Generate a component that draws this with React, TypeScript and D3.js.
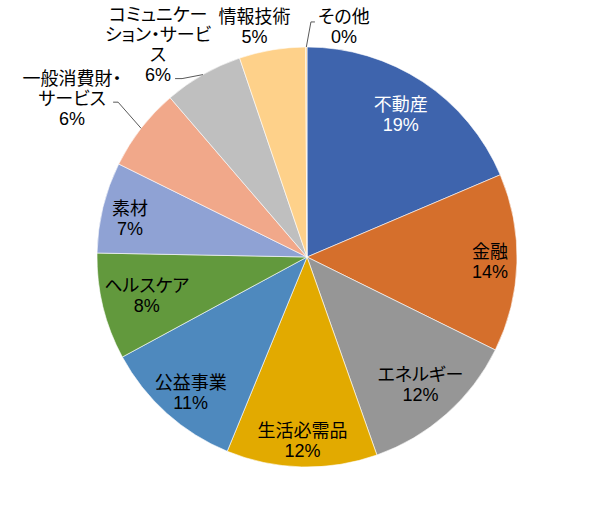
import { useEffect, useRef } from "react";
import * as d3 from "d3";

// sector weights (%), clockwise from 12 o'clock
const categories = [
  "不動産",
  "金融",
  "エネルギー",
  "生活必需品",
  "公益事業",
  "ヘルスケア",
  "素材",
  "一般消費財・サービス",
  "コミュニケーション・サービス",
  "情報技術",
  "その他",
];
const shares = [18.6, 13.7, 12.3, 11.6, 10.9, 8.2, 7.0, 6.4, 6.1, 5.1, 0.1];
// how the labels wrap in the picture
const labelLines = [
  ["不動産"],
  ["金融"],
  ["エネルギー"],
  ["生活必需品"],
  ["公益事業"],
  ["ヘルスケア"],
  ["素材"],
  ["一般消費財・", "サービス"],
  ["コミュニケー", "ション・サービ", "ス"],
  ["情報技術"],
  ["その他"],
];
const colors = [
  "#3e64ad",
  "#d56f2c",
  "#969696",
  "#e2aa00",
  "#4e89be",
  "#62993d",
  "#8fa2d4",
  "#f1a88a",
  "#bfbfbf",
  "#fed18a",
  "#fed18a",
];

// label placement (distance from centre, angular nudge in degrees)
const labelRadius = [170, 183, 171, 184, 179, 165, 181, 283, 259, 236, 233];
const labelTurn = [0, 0, 0, 0, -1.4, 0, -1.6, -3.9, -5.4, -3.3, 9.3];
// leader lines: [kneeDx, kneeDy, endDx, endDy] relative to label centre
const leaders: Record<number, number[]> = {
  7: [46, 3, 41, 3],
  8: [24, 33.5, 17, 33.5],
  10: [-33, -5, -29, -5],
};

const W = 615;
const H = 514;
const cx = 307;
const cy = 257;
const R = 210;
const lineH = 20;

const App = () => {
  const svgRef = useRef<SVGSVGElement | null>(null);

  useEffect(() => {
    document.body.style.margin = "0";
    const svg = d3.select(svgRef.current);
    svg.selectAll("*").remove();

    const data = categories.map((c, i) => ({ name: c, value: shares[i], i }));
    const pie = d3
      .pie<{ name: string; value: number; i: number }>()
      .sort(null)
      .value((d) => d.value);
    const arcs = pie(data);
    const arc = d3
      .arc<d3.PieArcDatum<{ name: string; value: number; i: number }>>()
      .innerRadius(0)
      .outerRadius(R);

    const g = svg.append("g").attr("transform", `translate(${cx},${cy})`);

    g.selectAll("path")
      .data(arcs)
      .enter()
      .append("path")
      .attr("d", arc)
      .attr("fill", (d) => colors[d.data.i])
      .attr("stroke", "#ffffff")
      .attr("stroke-width", 0.6);

    const polar = (deg: number, r: number) => {
      const a = (deg * Math.PI) / 180;
      return [r * Math.sin(a), -r * Math.cos(a)];
    };

    arcs.forEach((d) => {
      const i = d.data.i;
      const midDeg = (((d.startAngle + d.endAngle) / 2) * 180) / Math.PI;
      const [lx, ly] = polar(midDeg + labelTurn[i], labelRadius[i]);
      const lines = [...labelLines[i], `${Math.round(d.data.value)}%`];
      const top = ly - ((lines.length - 1) * lineH) / 2;

      if (leaders[i]) {
        const [ax, ay] = polar(midDeg, R);
        const [kdx, kdy, edx, edy] = leaders[i];
        g.append("path")
          .attr(
            "d",
            d3.line()([
              [ax, ay],
              [lx + kdx, ly + kdy],
              [lx + edx, ly + edy],
            ])
          )
          .attr("fill", "none")
          .attr("stroke", "#595959")
          .attr("stroke-width", 1);
      }

      const t = g
        .append("text")
        .attr("text-anchor", "middle")
        .attr("dominant-baseline", "central")
        .style("font-family", '"Liberation Sans", Arial, "Noto Sans CJK JP", sans-serif')
        .style("font-size", "18px")
        .style("font-feature-settings", '"palt"')
        .attr("fill", i === 0 ? "#ffffff" : "#000000");
      lines.forEach((s, k) => {
        t.append("tspan")
          .attr("x", lx)
          .attr("y", top + k * lineH)
          .text(s);
      });
    });
  }, []);

  return <svg ref={svgRef} width={W} height={H} style={{ display: "block", background: "#fff" }} />;
};

export default App;
